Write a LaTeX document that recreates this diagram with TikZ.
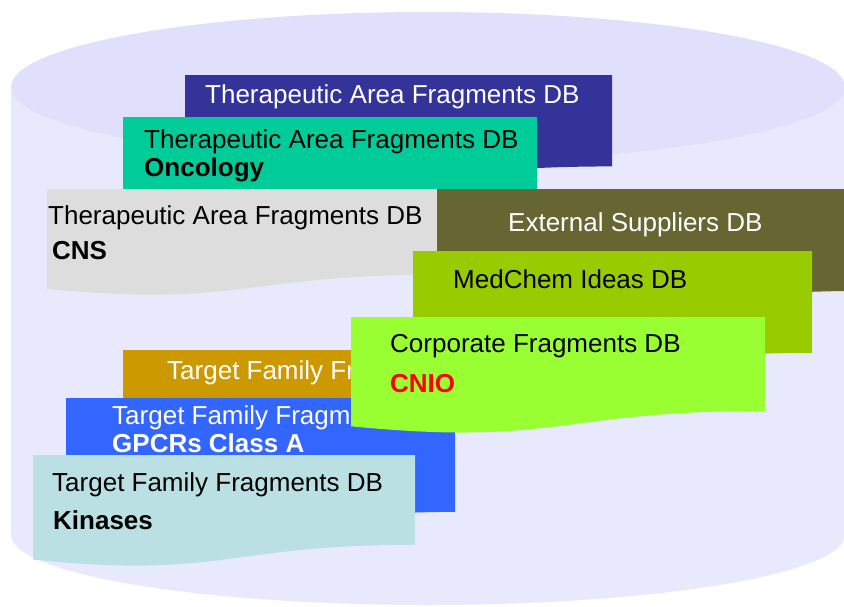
\documentclass[tikz,border=0pt]{standalone}
\usepackage{fontspec}
\setmainfont{Liberation Sans}
\definecolor{cylbody}{HTML}{E9E9FD}
\definecolor{cyltop}{HTML}{E0E0FC}
\definecolor{areablue}{HTML}{333399}
\definecolor{areateal}{HTML}{00CC99}
\definecolor{areagray}{HTML}{DDDDDD}
\definecolor{supolive}{HTML}{666633}
\definecolor{medgreen}{HTML}{99CC00}
\definecolor{corplime}{HTML}{99FF33}
\definecolor{famgold}{HTML}{CC9900}
\definecolor{famblue}{HTML}{3366FF}
\definecolor{famcyan}{HTML}{BAE0E3}
% sheet with wavy bottom: x y width height colour
\newcommand{\docsheet}[5]{%
  \fill[#5] (#1,#2) -- (#1+#3,#2) -- (#1+#3,#2+0.802*#4)
    .. controls (#1+0.5*#3,#2+0.802*#4) and (#1+0.5*#3,#2+1.1075*#4) .. (#1,#2+0.934*#4) -- cycle;}
\begin{document}
\begin{tikzpicture}[x=1pt, y=-1pt,
    dbtext/.style ={anchor=base west, inner sep=0pt, font=\fontsize{26}{30}\selectfont},
    dbbold/.style ={dbtext, font=\fontsize{26}{30}\selectfont\bfseries}]
   \clip (0,0) rectangle (844,606);

   \fill[cylbody] (11,87) -- (11,535) arc[start angle=180, end angle=0, x radius=417, y radius=70] -- (845,87) -- cycle;
   \fill[cyltop] (428,87) ellipse [x radius=417, y radius=75];

   \docsheet{185}{75}{427}{114}{areablue}
   \node[dbtext, text=white] (areaA) at (205,103) {Therapeutic Area Fragments DB};

   \docsheet{123}{117}{414}{90}{areateal}
   \node[dbtext] (areaB) at (144,148) {Therapeutic Area Fragments DB};
   \node[dbbold] (onco) at (144,176) {Oncology};

   \docsheet{47}{189}{390}{107}{areagray}
   \node[dbtext] (areaC) at (48,224) {Therapeutic Area Fragments DB};
   \node[dbbold] (cns) at (52,259) {CNS};

   \docsheet{437}{189}{430}{127}{supolive}
   \node[dbtext, text=white] (suppliers) at (508,231) {External Suppliers DB};

   \docsheet{413}{251}{399}{127}{medgreen}
   \node[dbtext] (medchem) at (453,288) {MedChem Ideas DB};

   \docsheet{123}{350}{380}{70}{famgold}
   \node[dbtext, text=white] (famG) at (167,379) {Target Family Fragments DB};

   \docsheet{66}{398}{389}{142}{famblue}
   \node[dbtext, text=white] (famH) at (112,424) {Target Family Fragments DB};
   \node[dbbold, text=white] (gpcr) at (112,452) {GPCRs Class A};

   \docsheet{33}{455}{382}{112}{famcyan}
   \node[dbtext] (famI) at (52,491) {Target Family Fragments DB};
   \node[dbbold] (kinase) at (53,529) {Kinases};

   \docsheet{351}{317}{414}{117}{corplime}
   \node[dbtext] (corp) at (390,352) {Corporate Fragments DB};
   \node[dbbold, text=red] (cnio) at (390,392) {CNIO};
 \end{tikzpicture}
\end{document}
